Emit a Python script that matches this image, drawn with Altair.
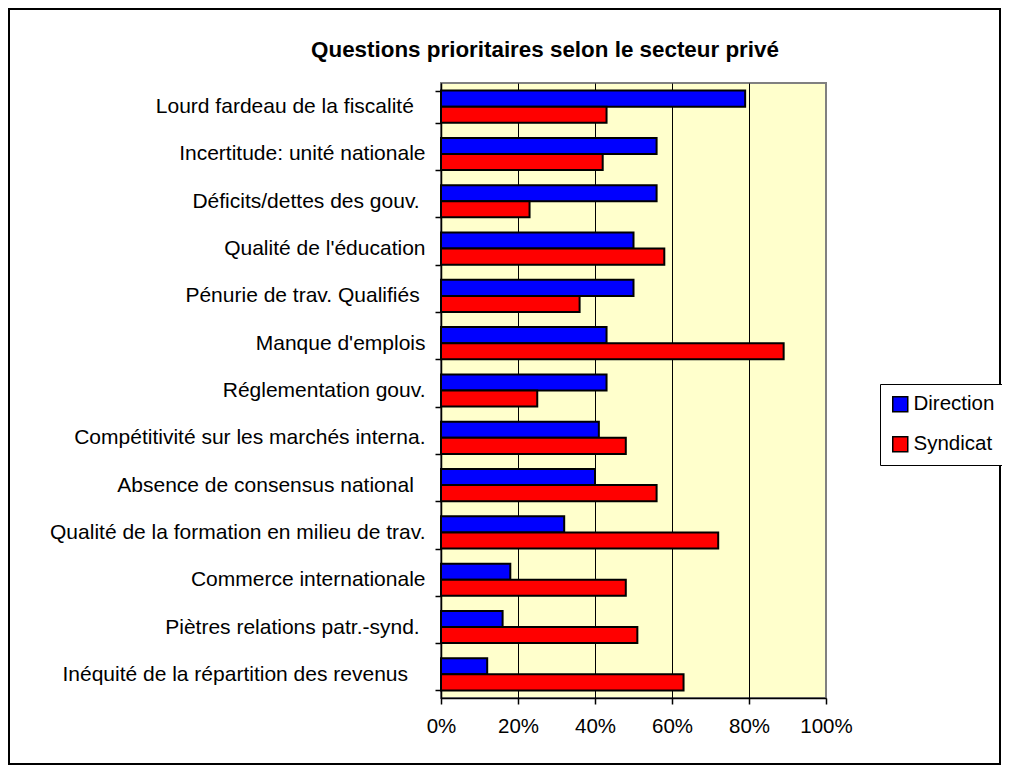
import altair as alt
import pandas as pd

NB = "\u00a0"
ZJ = "\u200d"
categories = [
    "Lourd fardeau de la fiscalité" + NB * 2 + ZJ,
    "Incertitude: unité nationale",
    "Déficits/dettes des gouv." + NB + ZJ,
    "Qualité de l'éducation",
    "Pénurie de trav. Qualifiés" + NB + ZJ,
    "Manque d'emplois",
    "Réglementation gouv.",
    "Compétitivité sur les marchés interna.",
    "Absence de consensus national" + NB * 2 + ZJ,
    "Qualité de la formation en milieu de trav.",
    "Commerce internationale",
    "Piètres relations patr.-synd." + NB + ZJ,
    "Inéquité de la répartition des revenus" + NB * 3 + ZJ,
]
direction = [79, 56, 56, 50, 50, 43, 43, 41, 40, 32, 18, 16, 12]
syndicat = [43, 42, 23, 58, 36, 89, 25, 48, 56, 72, 48, 51, 63]
series_names = ["Direction", "Syndicat"]
series_colors = ["#0000FF", "#FF0000"]
title_text = "Questions prioritaires selon le secteur privé"
tick_values = [0, 0.2, 0.4, 0.6, 0.8, 1.0]

rows = []
for c, d, s in zip(categories, direction, syndicat):
    rows.append({"cat": c, "series": "Direction", "value": d / 100})
    rows.append({"cat": c, "series": "Syndicat", "value": s / 100})
df = pd.DataFrame(rows)

FONT = "Liberation Sans"
FS = 20.5

bars = alt.Chart(df).mark_bar(stroke="black", strokeWidth=2).encode(
    x=alt.X("value:Q",
            scale=alt.Scale(domain=[0, 1], nice=False),
            axis=alt.Axis(values=tick_values, format="%", title=None,
                          grid=True,
                          gridColor=alt.condition("datum.value >= 1", alt.value("#808080"), alt.value("#000000")),
                          gridWidth=1,
                          domainColor="black", domainWidth=1.5,
                          tickColor="black", tickSize=6, tickWidth=1.5,
                          labelFontSize=FS, labelFont=FONT, labelColor="black",
                          labelFlush=False, labelOverlap=False,
                          labelPadding=12)),
    y=alt.Y("cat:N", sort=categories,
            scale=alt.Scale(paddingInner=0.32, paddingOuter=0.16),
            axis=alt.Axis(title=None, tickBand="extent", tickSize=6, tickWidth=1.5,
                          tickColor="black", domainColor="black", domainWidth=1.5,
                          labelFontSize=21, labelFont=FONT, labelColor="black",
                          labelPadding=10, labelLimit=0, grid=False)),
    yOffset=alt.YOffset("series:N", sort=series_names,
                        scale=alt.Scale(paddingInner=0, paddingOuter=0)),
    color=alt.Color("series:N",
                    scale=alt.Scale(domain=series_names, range=series_colors),
                    legend=alt.Legend(title=None, orient="none", legendX=439, legendY=301,
                                      symbolType="square", symbolSize=225,
                                      symbolStrokeColor="black", symbolStrokeWidth=1.5,
                                      labelFontSize=FS, labelFont=FONT, labelColor="black",
                                      labelOffset=3, rowPadding=18, padding=10,
                                      strokeColor="black", fillColor="white")),
)

frame = alt.Chart(pd.DataFrame({"k": [0]})).mark_rect(
    fill=None, stroke="black", strokeWidth=2
).encode(
    x=alt.value(-432), x2=alt.value(559),
    y=alt.value(-74), y2=alt.value(681),
)

title = alt.Chart(pd.DataFrame({"t": [title_text]})).mark_text(
    font=FONT, fontSize=22.4, fontWeight="bold", color="black",
    align="center", baseline="alphabetic"
).encode(
    text="t:N", x=alt.value(104), y=alt.value(-26)
)

chart = alt.layer(frame, bars, title).properties(
    width=385, height=615,
    autosize=alt.AutoSizeParams(type="none"),
    padding={"left": 433, "top": 75, "right": 176, "bottom": 67},
    background="white",
).configure_view(
    fill="#FFFFCC", stroke="#808080", strokeWidth=2
)

chart.save("out.html", embed_options={"renderer": "svg", "actions": False})
